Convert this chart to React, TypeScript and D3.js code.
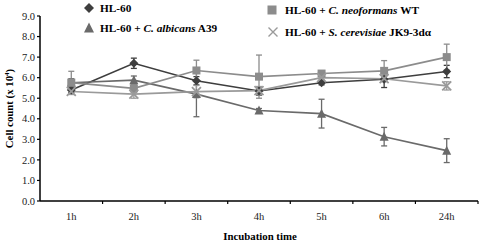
import React from "react";
import * as d3 from "d3";

const categories = ["1h", "2h", "3h", "4h", "5h", "6h", "24h"];
const yTicks = [0, 1, 2, 3, 4, 5, 6, 7, 8, 9];

const hl60 = [5.4, 6.7, 5.85, 5.35, 5.75, 5.92, 6.3];
const hl60Err = [0.12, 0.25, 0.2, 0.2, 0.1, 0.4, 0.3];
const albicans = [5.75, 5.88, 5.2, 4.4, 4.25, 3.13, 2.45];
const albicansErr = [0.2, 0.2, 1.1, 0.1, 0.7, 0.45, 0.58];
const neoformans = [5.76, 5.48, 6.35, 6.05, 6.2, 6.33, 7.0];
const neoformansErr = [0.55, 0.2, 0.5, 1.05, 0.1, 0.5, 0.63];
const cerevisiae = [5.33, 5.2, 5.32, 5.37, 6.0, 5.95, 5.6];
const cerevisiaeErr = [0.15, 0.2, 0.3, 0.2, 0.1, 0.15, 0.2];

const series = [
  { name: "HL-60", values: hl60, err: hl60Err, color: "#3e3e3e", shape: "diamond" },
  { name: "albicans", values: albicans, err: albicansErr, color: "#6a6a6a", shape: "triangle" },
  { name: "neoformans", values: neoformans, err: neoformansErr, color: "#8c8c8c", shape: "square" },
  { name: "cerevisiae", values: cerevisiae, err: cerevisiaeErr, color: "#9a9a9a", shape: "x" },
];

const margin = { left: 40, right: 2, top: 16, bottom: 44 };
const W = 480, H = 245;

function Marker({ shape, x, y, color, s = 4.5, sw = 1.8 }: any) {
  if (shape === "diamond") {
    return <path d={`M${x},${y - s} L${x + s},${y} L${x},${y + s} L${x - s},${y} Z`} fill={color} />;
  }
  if (shape === "triangle") {
    return <path d={`M${x},${y - s - 0.5} L${x + s},${y + s - 0.5} L${x - s},${y + s - 0.5} Z`} fill={color} />;
  }
  if (shape === "square") {
    return <rect x={x - s + 0.5} y={y - s + 0.5} width={2 * s - 1} height={2 * s - 1} fill={color} />;
  }
  return (
    <path d={`M${x - s},${y - s} L${x + s},${y + s} M${x + s},${y - s} L${x - s},${y + s}`} stroke={color} strokeWidth={sw} fill="none" />
  );
}

export default function App() {
  const x = d3.scaleBand().domain(categories).range([margin.left, W - margin.right]);
  const y = d3.scaleLinear().domain([0, 9]).range([H - margin.bottom, margin.top]);
  const cx = (c: string) => (x(c) as number) + x.bandwidth() / 2;
  const line = d3.line<number>().x((_, i) => cx(categories[i])).y((d) => y(d));
  const font = "'Liberation Serif', 'Times New Roman', serif";
  const lf = 11.3;

  return (
    <svg width={W} height={H} style={{ position: "absolute", left: 0, top: 0, background: "#fff" }} fontFamily={font}>
      {/* axes */}
      <line x1={margin.left} x2={margin.left} y1={y(9)} y2={y(0)} stroke="#000" strokeWidth={1.5} />
      <line x1={margin.left} x2={W - margin.right} y1={y(0)} y2={y(0)} stroke="#000" strokeWidth={1.5} />
      {yTicks.map((t) => (
        <g key={t}>
          <line x1={margin.left - 3} x2={margin.left} y1={y(t)} y2={y(t)} stroke="#000" strokeWidth={1.2} />
          <text x={margin.left - 5} y={y(t)} dy="0.35em" textAnchor="end" fontSize={10.5} fill="#222">
            {t.toFixed(1)}
          </text>
        </g>
      ))}
      {categories.map((c) => (
        <g key={c}>
          <line x1={(x(c) as number) + x.bandwidth()} x2={(x(c) as number) + x.bandwidth()} y1={y(0)} y2={y(0) + 3} stroke="#000" strokeWidth={1.2} />
          <text x={cx(c)} y={y(0) + 19} textAnchor="middle" fontSize={10.5} fill="#222">{c}</text>
        </g>
      ))}
      <text x={260} y={240} textAnchor="middle" fontSize={10.8} fontWeight="bold">Incubation time</text>
      <text transform={`translate(13,${(y(0) + y(9)) / 2}) rotate(-90)`} textAnchor="middle" fontSize={10.8} fontWeight="bold">
        Cell count (x 10<tspan dy="-4" fontSize={7}>4</tspan><tspan dy="4">)</tspan>
      </text>

      {/* lines */}
      {series.map((s) => (
        <path key={s.name} d={line(s.values) as string} fill="none" stroke={s.color} strokeWidth={1.6} />
      ))}
      {/* error bars */}
      {series.map((s) =>
        s.values.map((v, i) => {
          const px = cx(categories[i]);
          const y1 = y(v + s.err[i]);
          const y2 = y(v - s.err[i]);
          return (
            <g key={s.name + i} stroke={s.color} strokeWidth={1.3}>
              <line x1={px} x2={px} y1={y1} y2={y2} />
              <line x1={px - 3} x2={px + 3} y1={y1} y2={y1} />
              <line x1={px - 3} x2={px + 3} y1={y2} y2={y2} />
            </g>
          );
        })
      )}
      {/* markers */}
      {series.map((s) =>
        s.values.map((v, i) => (
          <Marker key={s.name + "m" + i} shape={s.shape} x={cx(categories[i])} y={y(v)} color={s.color} />
        ))
      )}

      {/* legend */}
      <Marker shape="diamond" x={89} y={8} color={series[0].color} s={5} />
      <text x={100} y={12} fontSize={lf} fontWeight="bold">HL-60</text>
      <Marker shape="triangle" x={89} y={28} color={series[1].color} s={5} />
      <text x={100} y={32} fontSize={lf} fontWeight="bold">HL-60 + <tspan fontStyle="italic">C. albicans</tspan> A39</text>
      <Marker shape="square" x={272} y={10} color={series[2].color} s={5} />
      <text x={285} y={14} fontSize={lf} fontWeight="bold">HL-60 + <tspan fontStyle="italic">C. neoformans</tspan> WT</text>
      <Marker shape="x" x={273} y={32} color={series[3].color} s={4.5} sw={1.4} />
      <text x={285} y={36} fontSize={lf} fontWeight="bold">HL-60 + <tspan fontStyle="italic">S. cerevisiae</tspan> JK9-3dα</text>
    </svg>
  );
}
